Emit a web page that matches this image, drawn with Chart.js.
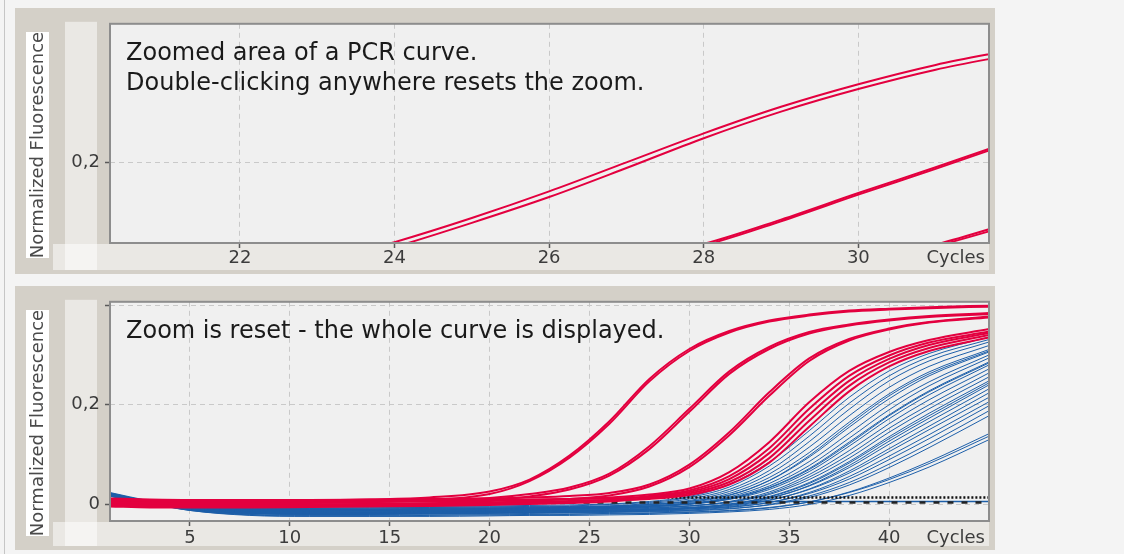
<!DOCTYPE html>
<html>
<head>
<meta charset="utf-8">
<script src="https://cdn.jsdelivr.net/npm/chart.js@4.4.0/dist/chart.umd.min.js"></script>
<style>
  html, body { margin: 0; padding: 0; width: 1124px; height: 554px; overflow: hidden; background: #f4f4f4; }
  #edge { position: absolute; left: 4px; top: 0; width: 1px; height: 554px; background: #c6c6c6; }
  .panel { position: absolute; left: 15px; }
  #zoomPanel { top: 8px; }
  #fullPanel { top: 286px; }
  canvas { display: block; }
</style>
</head>
<body>
<div id="edge"></div>
<div class="panel" id="zoomPanel"><canvas id="zoomChart" width="980" height="266"></canvas></div>
<div class="panel" id="fullPanel"><canvas id="fullChart" width="980" height="264"></canvas></div>
<script>
// ---------- zoomed view (top) ----------
const topCycles = [22, 23, 24, 25, 26, 27, 28, 29, 30, 31, 32];
const topPairUpper = [0.050, 0.075, 0.101, 0.131, 0.164, 0.200, 0.236, 0.269, 0.297, 0.321, 0.340];
const topPairLower = [0.045, 0.069, 0.095, 0.125, 0.157, 0.193, 0.230, 0.263, 0.291, 0.315, 0.334];
const topMidUpper = [0.020, 0.028, 0.038, 0.050, 0.065, 0.080, 0.099, 0.129, 0.162, 0.194, 0.227];
const topMidLower = [0.019, 0.027, 0.037, 0.049, 0.063, 0.078, 0.097, 0.127, 0.160, 0.192, 0.225];
const topLateUpper = [0.005, 0.008, 0.012, 0.018, 0.026, 0.036, 0.049, 0.062, 0.076, 0.098, 0.126];
const topLateLower = [0.004, 0.007, 0.011, 0.017, 0.025, 0.035, 0.048, 0.060, 0.074, 0.096, 0.123];
const topXTicks = [22, 24, 26, 28, 30];
const topYTicks = [0.2];
const topYTickLabels = ['0,2'];
const topNotes = ['Zoomed area of a PCR curve.', 'Double-clicking anywhere resets the zoom.'];

// ---------- full view (bottom) ----------
const cycles = [1, 3, 5, 8, 11, 14, 17, 20, 22, 24, 26, 28, 30, 32, 34, 36, 38, 40, 42, 45];

const redCurves = [
  [0.010, 0.008, 0.007, 0.007, 0.008, 0.010, 0.014, 0.026, 0.050, 0.098, 0.167, 0.252, 0.312, 0.348, 0.369, 0.381, 0.389, 0.393, 0.396, 0.399],
  [0.004, 0.003, 0.002, 0.002, 0.003, 0.005, 0.009, 0.021, 0.047, 0.094, 0.162, 0.247, 0.308, 0.345, 0.367, 0.379, 0.387, 0.391, 0.394, 0.397],
  [0.008, 0.007, 0.006, 0.006, 0.006, 0.007, 0.009, 0.013, 0.021, 0.034, 0.062, 0.117, 0.192, 0.267, 0.316, 0.346, 0.361, 0.371, 0.378, 0.384],
  [0.000, -0.002, -0.002, -0.002, -0.001, 0.000, 0.002, 0.008, 0.016, 0.030, 0.058, 0.111, 0.186, 0.262, 0.312, 0.343, 0.359, 0.369, 0.376, 0.382],
  [0.012, 0.010, 0.009, 0.009, 0.009, 0.010, 0.011, 0.012, 0.014, 0.017, 0.023, 0.040, 0.080, 0.145, 0.225, 0.293, 0.332, 0.353, 0.366, 0.377],
  [0.003, 0.001, 0.000, 0.000, 0.000, 0.001, 0.002, 0.004, 0.007, 0.011, 0.018, 0.036, 0.075, 0.139, 0.218, 0.288, 0.329, 0.351, 0.365, 0.375],
  [0.006, 0.005, 0.004, 0.004, 0.004, 0.005, 0.006, 0.007, 0.009, 0.011, 0.014, 0.020, 0.032, 0.065, 0.125, 0.205, 0.268, 0.306, 0.330, 0.352],
  [-0.002, -0.004, -0.004, -0.004, -0.003, -0.002, -0.001, 0.001, 0.003, 0.005, 0.009, 0.017, 0.028, 0.057, 0.113, 0.192, 0.258, 0.299, 0.325, 0.347],
  [0.009, 0.008, 0.007, 0.007, 0.007, 0.007, 0.008, 0.009, 0.010, 0.011, 0.012, 0.015, 0.025, 0.051, 0.103, 0.180, 0.248, 0.292, 0.320, 0.344],
  [-0.004, -0.006, -0.006, -0.006, -0.005, -0.004, -0.003, -0.001, 0.001, 0.003, 0.006, 0.013, 0.022, 0.045, 0.093, 0.168, 0.238, 0.285, 0.314, 0.340],
  [0.002, 0.000, 0.000, 0.000, 0.000, 0.001, 0.002, 0.003, 0.005, 0.007, 0.009, 0.011, 0.019, 0.040, 0.084, 0.156, 0.227, 0.277, 0.308, 0.335]
];

const blueCurves = [
  [0.020, 0.006, -0.003, -0.005, -0.005, -0.005, -0.004, -0.003, -0.002, -0.001, 0.001, 0.006, 0.016, 0.040, 0.085, 0.148, 0.215, 0.268, 0.303, 0.336],
  [0.022, 0.005, -0.005, -0.008, -0.008, -0.007, -0.006, -0.005, -0.004, -0.003, 0.000, 0.004, 0.014, 0.035, 0.077, 0.137, 0.203, 0.258, 0.296, 0.331],
  [0.018, 0.004, -0.006, -0.009, -0.009, -0.009, -0.008, -0.007, -0.006, -0.005, -0.003, 0.002, 0.011, 0.030, 0.068, 0.126, 0.191, 0.248, 0.288, 0.326],
  [0.021, 0.005, -0.007, -0.011, -0.012, -0.011, -0.010, -0.009, -0.008, -0.007, -0.005, 0.000, 0.008, 0.026, 0.061, 0.115, 0.178, 0.235, 0.277, 0.319],
  [0.019, 0.004, -0.006, -0.010, -0.010, -0.010, -0.009, -0.008, -0.007, -0.006, -0.004, -0.001, 0.006, 0.022, 0.054, 0.104, 0.165, 0.222, 0.266, 0.311],
  [0.023, 0.006, -0.004, -0.007, -0.007, -0.007, -0.006, -0.005, -0.005, -0.004, -0.003, 0.000, 0.006, 0.019, 0.048, 0.095, 0.155, 0.212, 0.258, 0.306],
  [0.020, 0.004, -0.008, -0.013, -0.014, -0.013, -0.012, -0.011, -0.010, -0.009, -0.007, -0.004, 0.002, 0.015, 0.042, 0.086, 0.143, 0.200, 0.246, 0.300],
  [0.017, 0.003, -0.008, -0.012, -0.012, -0.012, -0.011, -0.010, -0.009, -0.008, -0.007, -0.004, 0.001, 0.013, 0.037, 0.078, 0.133, 0.190, 0.238, 0.294],
  [0.021, 0.005, -0.006, -0.010, -0.011, -0.010, -0.010, -0.009, -0.008, -0.007, -0.006, -0.003, 0.002, 0.012, 0.034, 0.072, 0.125, 0.180, 0.228, 0.286],
  [0.024, 0.007, -0.005, -0.009, -0.009, -0.009, -0.008, -0.007, -0.007, -0.006, -0.005, -0.003, 0.001, 0.010, 0.030, 0.066, 0.117, 0.172, 0.220, 0.280],
  [0.019, 0.003, -0.009, -0.015, -0.016, -0.015, -0.014, -0.013, -0.012, -0.011, -0.010, -0.008, -0.003, 0.006, 0.025, 0.060, 0.108, 0.162, 0.210, 0.272],
  [0.018, 0.004, -0.008, -0.013, -0.014, -0.013, -0.013, -0.012, -0.011, -0.010, -0.009, -0.007, -0.003, 0.005, 0.022, 0.055, 0.100, 0.153, 0.200, 0.264],
  [0.020, 0.005, -0.007, -0.012, -0.012, -0.012, -0.011, -0.011, -0.010, -0.009, -0.008, -0.006, -0.003, 0.004, 0.020, 0.050, 0.093, 0.145, 0.192, 0.256],
  [0.022, 0.004, -0.009, -0.016, -0.017, -0.017, -0.016, -0.015, -0.014, -0.013, -0.012, -0.010, -0.006, 0.001, 0.016, 0.044, 0.086, 0.136, 0.183, 0.248],
  [0.016, 0.002, -0.010, -0.017, -0.018, -0.018, -0.017, -0.016, -0.015, -0.014, -0.013, -0.011, -0.008, -0.002, 0.012, 0.038, 0.078, 0.127, 0.173, 0.240],
  [0.020, 0.004, -0.008, -0.014, -0.015, -0.015, -0.014, -0.013, -0.012, -0.012, -0.011, -0.009, -0.006, 0.000, 0.013, 0.037, 0.074, 0.121, 0.166, 0.232],
  [0.019, 0.003, -0.010, -0.018, -0.019, -0.019, -0.018, -0.017, -0.016, -0.015, -0.014, -0.012, -0.009, -0.004, 0.008, 0.031, 0.067, 0.112, 0.157, 0.224],
  [0.021, 0.005, -0.008, -0.014, -0.015, -0.015, -0.015, -0.014, -0.013, -0.012, -0.011, -0.010, -0.007, -0.002, 0.009, 0.030, 0.063, 0.106, 0.150, 0.215],
  [0.017, 0.002, -0.011, -0.019, -0.020, -0.020, -0.019, -0.018, -0.017, -0.016, -0.015, -0.013, -0.011, -0.006, 0.004, 0.024, 0.056, 0.097, 0.140, 0.206],
  [0.020, 0.004, -0.009, -0.016, -0.017, -0.017, -0.016, -0.016, -0.015, -0.014, -0.013, -0.012, -0.009, -0.005, 0.004, 0.022, 0.051, 0.090, 0.132, 0.198],
  [0.018, 0.003, -0.010, -0.018, -0.020, -0.020, -0.019, -0.019, -0.018, -0.017, -0.016, -0.015, -0.013, -0.009, 0.000, 0.017, 0.044, 0.081, 0.122, 0.188],
  [0.022, 0.005, -0.009, -0.017, -0.018, -0.018, -0.018, -0.017, -0.016, -0.016, -0.015, -0.014, -0.012, -0.008, -0.001, 0.014, 0.039, 0.074, 0.114, 0.178],
  [0.019, 0.002, -0.012, -0.021, -0.023, -0.023, -0.022, -0.021, -0.021, -0.020, -0.019, -0.018, -0.016, -0.013, -0.007, 0.005, 0.025, 0.053, 0.086, 0.142],
  [0.021, 0.004, -0.011, -0.020, -0.022, -0.022, -0.021, -0.021, -0.020, -0.019, -0.018, -0.017, -0.015, -0.012, -0.006, 0.005, 0.024, 0.050, 0.082, 0.137],
  [0.018, 0.003, -0.012, -0.022, -0.024, -0.024, -0.024, -0.023, -0.022, -0.022, -0.021, -0.020, -0.018, -0.015, -0.010, 0.000, 0.018, 0.044, 0.075, 0.130],
  [0.020, 0.005, -0.007, -0.012, -0.013, -0.013, -0.012, -0.011, -0.010, -0.009, -0.008, -0.005, 0.000, 0.011, 0.033, 0.070, 0.122, 0.178, 0.226, 0.284],
  [0.022, 0.006, -0.006, -0.011, -0.011, -0.011, -0.010, -0.009, -0.008, -0.007, -0.006, -0.003, 0.004, 0.018, 0.048, 0.098, 0.160, 0.218, 0.262, 0.308],
  [0.019, 0.004, -0.009, -0.015, -0.016, -0.016, -0.015, -0.014, -0.013, -0.013, -0.012, -0.010, -0.007, 0.000, 0.015, 0.042, 0.083, 0.132, 0.178, 0.244]
];

// threshold lines: [cycle, value] end points
const dottedThreshold = [[28.5, 0.014], [45, 0.014]];
const dashedThreshold = [[24, 0.004], [45, 0.004]];
const blueThreshold = [[33, 0.006], [45, 0.006]];

const fullXTicks = [5, 10, 15, 20, 25, 30, 35, 40];
const fullYTicks = [0, 0.2, 0.4];
const fullYTickLabels = ['0', '0,2', ''];
const fullNotes = ['Zoom is reset - the whole curve is displayed.'];

const yTitle = 'Normalized Fluorescence';
const xTitle = 'Cycles';

const RED = '#e3003f';
const BLUE = '#1d5fa9';
const AXIS_FONT = { family: 'DejaVu Sans', size: 18 };

function points(xs, ys) {
  return xs.map((x, i) => ({ x: x, y: ys[i] }));
}

function curve(xs, ys, color, width) {
  return {
    data: points(xs, ys),
    borderColor: color,
    borderWidth: width,
    pointRadius: 0,
    fill: false,
    cubicInterpolationMode: 'monotone'
  };
}

function flatLine(pts, color, width, dash) {
  return {
    data: pts.map(p => ({ x: p[0], y: p[1] })),
    borderColor: color,
    borderWidth: width,
    borderDash: dash,
    pointRadius: 0,
    fill: false
  };
}

// frame, strips, axis title and notes around the plot
const panelFrame = {
  id: 'panelFrame',
  beforeDraw(chart, args, opts) {
    const { ctx, width, height, chartArea: a } = chart;
    ctx.save();
    ctx.fillStyle = '#d4d0c8';
    ctx.fillRect(0, 0, width, height);
    ctx.fillStyle = 'rgba(255, 255, 255, 0.5)';
    ctx.fillRect(a.left - 45, a.top - 2, 32, height - a.top - 2);
    ctx.fillRect(a.left - 57, a.bottom + 1, a.right - a.left + 57, height - a.bottom - 5);
    ctx.fillStyle = '#f0f0f0';
    ctx.fillRect(a.left, a.top, a.right - a.left, a.bottom - a.top);

    // y title in its white box
    ctx.fillStyle = '#ffffff';
    ctx.fillRect(11, 24, 23, 226);
    ctx.translate(22.5, 137);
    ctx.rotate(-Math.PI / 2);
    ctx.font = '18px "DejaVu Sans"';
    ctx.fillStyle = '#4a4a4a';
    ctx.textAlign = 'center';
    ctx.textBaseline = 'middle';
    ctx.fillText(yTitle, 0, 1);
    ctx.restore();
  },
  afterDraw(chart, args, opts) {
    const { ctx, chartArea: a } = chart;
    ctx.save();
    ctx.strokeStyle = '#8d8d8d';
    ctx.lineWidth = 2;
    ctx.strokeRect(a.left, a.top, a.right - a.left, a.bottom - a.top);

    ctx.font = '18px "DejaVu Sans"';
    ctx.fillStyle = '#3c3c3c';
    ctx.textAlign = 'right';
    ctx.textBaseline = 'middle';
    ctx.fillText(xTitle, a.right - 4, a.bottom + opts.xTitleOffset);

    ctx.font = '24px "DejaVu Sans"';
    ctx.fillStyle = '#1a1a1a';
    ctx.textAlign = 'left';
    ctx.textBaseline = 'alphabetic';
    opts.notes.forEach((line, i) => {
      ctx.fillText(line, a.left + 16, a.top + 36 + i * 30);
    });
    ctx.restore();
  }
};

function axes(xMin, xMax, xTicks, yMin, yMax, yTicks, yLabels, xAxisHeight, xPad) {
  return {
    x: {
      type: 'linear',
      min: xMin,
      max: xMax,
      afterBuildTicks: s => { s.ticks = xTicks.map(v => ({ value: v })); },
      afterFit: s => { s.height = xAxisHeight; },
      grid: { color: '#c9c9c9', lineWidth: 1, tickColor: '#5a5a5a', tickLength: 5, tickWidth: 1.5 },
      border: { display: false, dash: [5, 4] },
      ticks: { font: AXIS_FONT, color: '#3c3c3c', padding: xPad, maxRotation: 0, autoSkip: false }
    },
    y: {
      type: 'linear',
      min: yMin,
      max: yMax,
      afterBuildTicks: s => { s.ticks = yTicks.map(v => ({ value: v })); },
      afterFit: s => { s.width = 95; },
      grid: { color: '#c9c9c9', lineWidth: 1, tickColor: '#5a5a5a', tickLength: 5, tickWidth: 1.5 },
      border: { display: false, dash: [5, 4] },
      ticks: { font: AXIS_FONT, color: '#3c3c3c', padding: 5, callback: (v, i) => yLabels[i] }
    }
  };
}

function baseOptions(padTop, notes, xTitleOffset, scales) {
  return {
    responsive: false,
    animation: false,
    events: [],
    layout: { padding: { top: padTop, right: 6, left: 0, bottom: 0 } },
    plugins: {
      legend: { display: false },
      tooltip: { enabled: false },
      panelFrame: { notes: notes, xTitleOffset: xTitleOffset }
    },
    scales: scales
  };
}

// top chart
new Chart(document.getElementById('zoomChart'), {
  type: 'line',
  data: {
    datasets: [
      curve(topCycles, topPairUpper, RED, 2),
      curve(topCycles, topPairLower, RED, 2),
      curve(topCycles, topMidUpper, RED, 2),
      curve(topCycles, topMidLower, RED, 2),
      curve(topCycles, topLateUpper, RED, 2),
      curve(topCycles, topLateLower, RED, 2)
    ]
  },
  options: baseOptions(9, topNotes, 15,
    axes(20.32, 31.69, topXTicks, 0.1, 0.372, topYTicks, topYTickLabels, 31, 0)),
  plugins: [panelFrame]
});

// bottom chart: red first so it is drawn on top
const fullSets = [];
redCurves.forEach(c => fullSets.push(curve(cycles, c, RED, 2)));
fullSets.push(flatLine(dottedThreshold, '#111111', 2.5, [2, 2]));
fullSets.push(flatLine(dashedThreshold, '#222222', 2.5, [6, 8]));
fullSets.push(flatLine(blueThreshold, BLUE, 1.5, []));
blueCurves.forEach(c => fullSets.push(curve(cycles, c, BLUE, 1)));

new Chart(document.getElementById('fullChart'), {
  type: 'line',
  data: { datasets: fullSets },
  options: baseOptions(10, fullNotes, 17,
    axes(1, 45, fullXTicks, -0.0332, 0.4067, fullYTicks, fullYTickLabels, 29, 2)),
  plugins: [panelFrame]
});
</script>
</body>
</html>
